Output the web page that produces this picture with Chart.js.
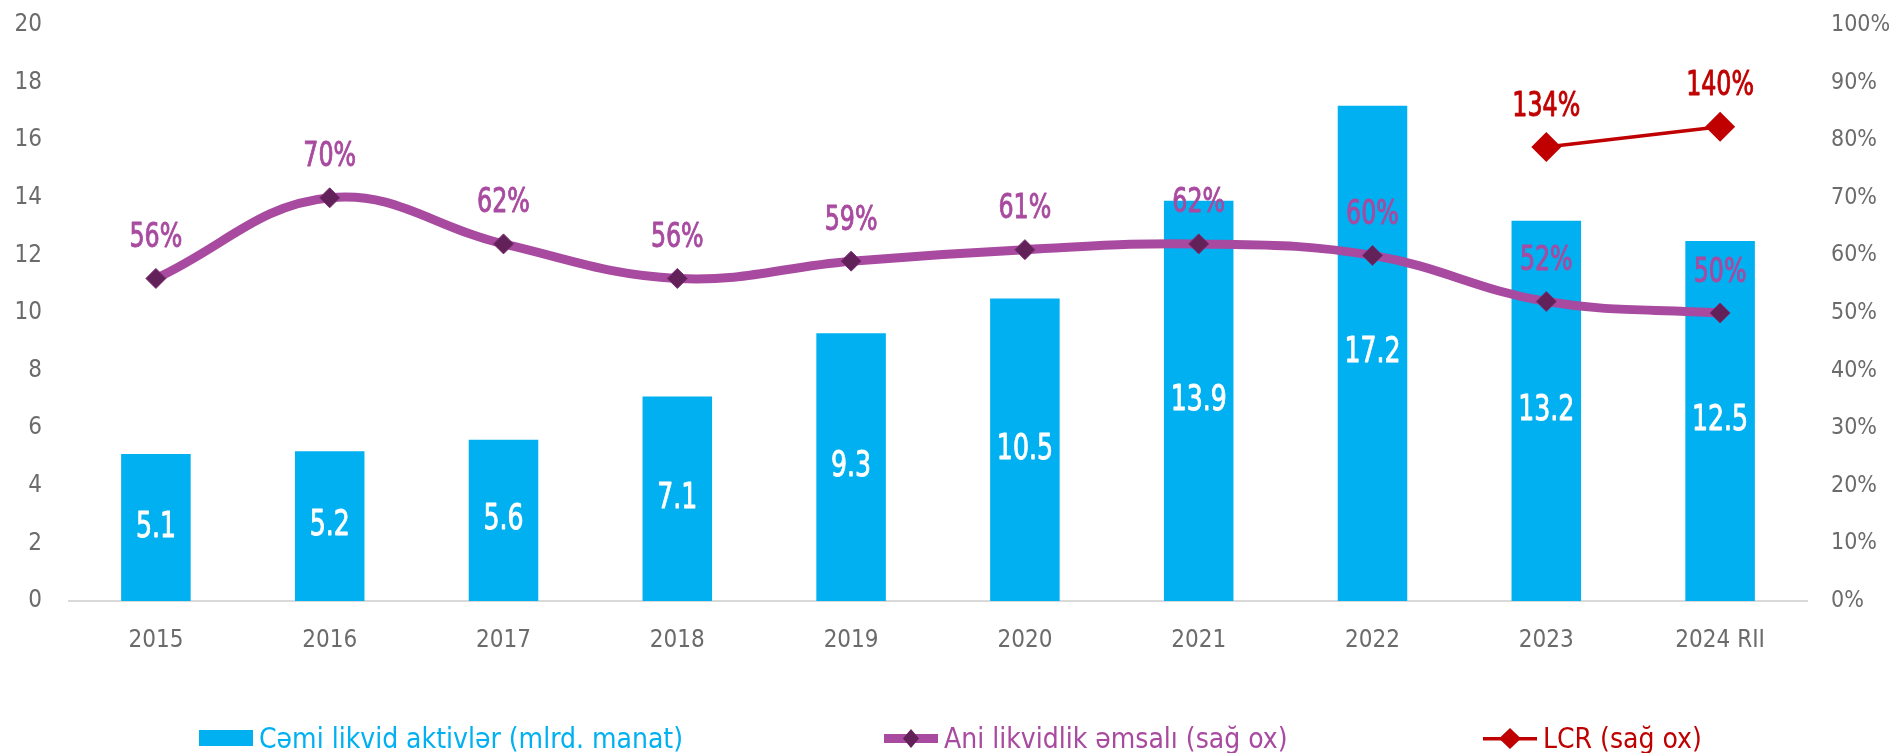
<!DOCTYPE html>
<html>
<head>
<meta charset="utf-8">
<script src="https://cdn.jsdelivr.net/npm/chart.js@4.4.1/dist/chart.umd.min.js"></script>
<style>
  html, body { margin:0; padding:0; background:#ffffff; }
  #wrap { position:relative; width:1890px; height:753px; overflow:hidden; }
  #c { position:absolute; left:0; top:0; }
  .lg { position:absolute; top:718px; height:40px; display:flex; align-items:center;
        font-family:"DejaVu Sans Condensed","Liberation Sans Narrow",Roboto,sans-serif; font-size:28px; white-space:nowrap; }
  .lg canvas { margin-right:6px; }
</style>
</head>
<body>
<div id="wrap">
  <canvas id="c" width="1890" height="753"></canvas>
</div>
<script>
const categories = ['2015','2016','2017','2018','2019','2020','2021','2022','2023','2024 RII'];
const liquidAssets = [5.1, 5.2, 5.6, 7.1, 9.3, 10.5, 13.9, 17.2, 13.2, 12.5];
const quickRatio = [56, 70, 62, 56, 59, 61, 62, 60, 52, 50];
const lcr = [null, null, null, null, null, null, null, null, 134, 140];
const leftTicks = [0, 2, 4, 6, 8, 10, 12, 14, 16, 18, 20];
const rightTicks = [0, 10, 20, 30, 40, 50, 60, 70, 80, 90, 100];
const seriesNames = ['Cəmi likvid aktivlər (mlrd. manat)', 'Ani likvidlik əmsalı (sağ ox)', 'LCR (sağ ox)'];

const FONT = '"DejaVu Sans Condensed", "Liberation Sans Narrow", Roboto, sans-serif';
const BLUE = '#00B0F0', PURPLE = '#A84A9F', PURPLE_DARK = '#622259', RED = '#C00000', GRAY = '#6B6B6B';

Chart.defaults.font.family = FONT;

function narrowText(ctx, text, x, y, sx, color) {
  ctx.save();
  ctx.translate(x, y);
  ctx.scale(sx, 1);
  ctx.fillStyle = color;
  ctx.strokeStyle = color;
  ctx.lineWidth = 0.9;
  ctx.lineJoin = 'round';
  ctx.strokeText(text, 0, 0);
  ctx.fillText(text, 0, 0);
  ctx.restore();
}

const labelPlugin = {
  id: 'valueLabels',
  afterDatasetsDraw(chart) {
    const ctx = chart.ctx;
    ctx.save();
    ctx.textAlign = 'center';
    ctx.textBaseline = 'middle';
    chart.data.datasets.forEach((ds, di) => {
      const meta = chart.getDatasetMeta(di);
      meta.data.forEach((el, i) => {
        const v = ds.data[i];
        if (v === null || v === undefined) return;
        if (ds.type === 'bar') {
          ctx.font = '35px ' + FONT;
          narrowText(ctx, v.toFixed(1), el.x, (el.y + el.base) / 2, 0.8, '#ffffff');
        } else {
          ctx.font = '33px ' + FONT;
          narrowText(ctx, v + '%', el.x, el.y - 40, 0.8, ds.borderColor);
        }
      });
    });
    ctx.restore();
  }
};

const chart = new Chart(document.getElementById('c'), {
  data: {
    labels: categories,
    datasets: [
      {
        type: 'line', label: seriesNames[2], data: lcr, yAxisID: 'y2', order: 1,
        borderColor: RED, borderWidth: 3.5, tension: 0,
        pointStyle: 'rectRot', pointRadius: 15, pointBackgroundColor: RED, pointBorderColor: RED, pointBorderWidth: 0
      },
      {
        type: 'line', label: seriesNames[1], data: quickRatio, yAxisID: 'y1', order: 2,
        borderColor: PURPLE, borderWidth: 9, tension: 0.4, cubicInterpolationMode: 'default',
        pointStyle: 'rectRot', pointRadius: 10, pointBackgroundColor: PURPLE_DARK, pointBorderColor: '#7a2d70', pointBorderWidth: 1
      },
      {
        type: 'bar', label: seriesNames[0], data: liquidAssets, yAxisID: 'y', order: 3,
        backgroundColor: BLUE, barPercentage: 0.8, categoryPercentage: 0.5
      }
    ]
  },
  options: {
    responsive: false,
    animation: false,
    layout: { padding: { top: 24, right: 0, left: 0, bottom: 0 } },
    plugins: { legend: { display: false }, tooltip: { enabled: false } },
    scales: {
      x: {
        grid: { display: false },
        border: { display: true, color: '#D9D9D9', width: 2 },
        ticks: { color: GRAY, font: { size: 24 }, padding: 17 },
        afterFit(s) { s.height = 150; }
      },
      y: {
        position: 'left', min: 0, max: 20,
        grid: { display: false }, border: { display: false },
        afterBuildTicks(s) { s.ticks = leftTicks.map(v => ({ value: v })); },
        ticks: { color: GRAY, font: { size: 24 }, padding: 19 },
        afterFit(s) { s.width = 69; s.paddingTop = 0; s.paddingBottom = 0; }
      },
      y1: {
        position: 'right', min: 0, max: 100,
        grid: { display: false }, border: { display: false },
        afterBuildTicks(s) { s.ticks = rightTicks.map(v => ({ value: v })); },
        ticks: { color: GRAY, font: { size: 23 }, padding: 16, callback: v => v + '%' },
        afterFit(s) { s.width = 83; s.paddingTop = 0; s.paddingBottom = 0; }
      },
      y2: { position: 'right', min: 0, max: 170, display: false }
    }
  },
  plugins: [labelPlugin]
});

// fine-tune plot area to target box (top 25, bottom 601)
(function fit() {
  const a = chart.chartArea;
  const p = chart.options.layout.padding;
  p.top += 25 - a.top;
  p.bottom += a.bottom - 601;
  chart.update();
})();

function symbolCanvas(kind, color, dark) {
  const c = document.createElement('canvas');
  c.width = 54; c.height = 24;
  const g = c.getContext('2d');
  if (kind === 'bar') {
    g.fillStyle = color; g.fillRect(0, 4, 54, 16);
  } else if (kind === 'thick') {
    g.fillStyle = color; g.fillRect(0, 8, 54, 9);
    g.fillStyle = dark; g.beginPath(); g.moveTo(27, 3); g.lineTo(35, 12.5); g.lineTo(27, 22); g.lineTo(19, 12.5); g.closePath(); g.fill();
  } else {
    g.fillStyle = color; g.fillRect(0, 11, 54, 3.5);
    g.beginPath(); g.moveTo(27, 2); g.lineTo(38, 12.5); g.lineTo(27, 23); g.lineTo(16, 12.5); g.closePath(); g.fill();
  }
  return c;
}
const legendDefs = [
  { ds: 2, kind: 'bar', left: 199 },
  { ds: 1, kind: 'thick', left: 884 },
  { ds: 0, kind: 'thin', left: 1483 }
];
const wrap = document.getElementById('wrap');
legendDefs.forEach(d => {
  const ds = chart.data.datasets[d.ds];
  const color = ds.type === 'bar' ? ds.backgroundColor : ds.borderColor;
  const div = document.createElement('div');
  div.className = 'lg';
  div.style.left = d.left + 'px';
  div.style.color = color;
  div.appendChild(symbolCanvas(d.kind, color, PURPLE_DARK));
  const span = document.createElement('span');
  span.textContent = ds.label;
  div.appendChild(span);
  wrap.appendChild(div);
});
</script>
</body>
</html>
